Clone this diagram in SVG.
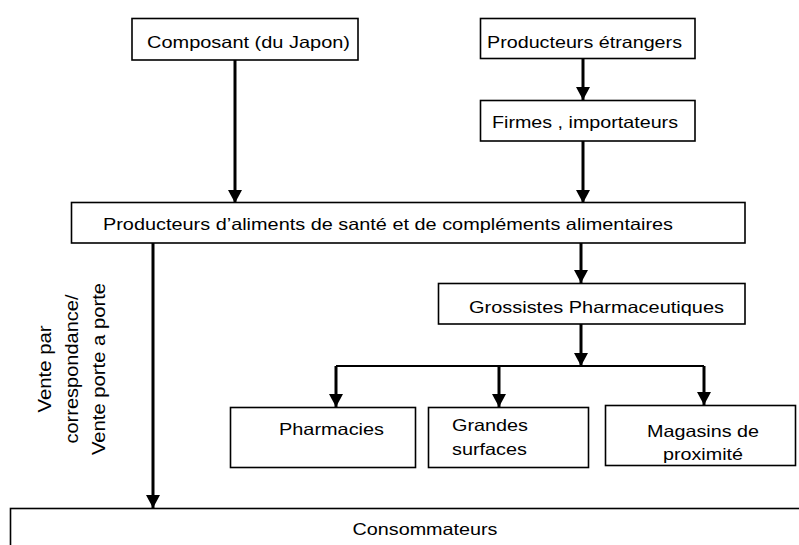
<svg xmlns="http://www.w3.org/2000/svg" width="799" height="545" viewBox="0 0 799 545">
<style>
.box{fill:#fff;stroke:#000;stroke-width:1.6}
.t{font-family:"Liberation Sans",Arial,sans-serif;font-size:16.5px;fill:#000}
.c{stroke:#000;stroke-width:3;fill:none}
.bar{stroke:#000;stroke-width:2.2;fill:none}
</style>
<defs>
<marker id="ah" markerUnits="userSpaceOnUse" markerWidth="14" markerHeight="14" refX="13" refY="7" orient="auto" viewBox="0 0 14 14">
<path d="M0,0 L13,7 L0,14 z" fill="#000"/>
</marker>
</defs>
<g id="connectors">
<line class="c" x1="235" y1="60" x2="235" y2="203" marker-end="url(#ah)"/>
<line class="c" x1="583" y1="58" x2="583" y2="100" marker-end="url(#ah)"/>
<line class="c" x1="583" y1="141" x2="583" y2="203" marker-end="url(#ah)"/>
<line class="c" x1="153" y1="243" x2="153" y2="508" marker-end="url(#ah)"/>
<line class="c" x1="581" y1="243" x2="581" y2="283" marker-end="url(#ah)"/>
<line class="c" x1="581" y1="324" x2="581" y2="366" marker-end="url(#ah)"/>
<line class="bar" x1="336" y1="366" x2="704" y2="366"/>
<line class="c" x1="336" y1="366" x2="336" y2="407" marker-end="url(#ah)"/>
<line class="c" x1="499" y1="366" x2="499" y2="407" marker-end="url(#ah)"/>
<line class="c" x1="704" y1="366" x2="704" y2="405" marker-end="url(#ah)"/>
<text class="t" transform="translate(51,369) rotate(-90)" text-anchor="middle" textLength="87" lengthAdjust="spacingAndGlyphs" style="font-size:18px">Vente par</text>
<text class="t" transform="translate(78,369) rotate(-90)" text-anchor="middle" textLength="149" lengthAdjust="spacingAndGlyphs" style="font-size:18px">correspondance/</text>
<text class="t" transform="translate(105,369) rotate(-90)" text-anchor="middle" textLength="172" lengthAdjust="spacingAndGlyphs" style="font-size:18px">Vente porte a porte</text>
</g>
<g id="composant">
<rect class="box" x="132" y="18.5" width="226" height="41.5"/>
<text class="t" x="147" y="48" textLength="203" lengthAdjust="spacingAndGlyphs">Composant (du Japon)</text>
</g>
<g id="producteurs-etrangers">
<rect class="box" x="480.5" y="18.5" width="214.5" height="40"/>
<text class="t" x="487" y="48" textLength="195" lengthAdjust="spacingAndGlyphs">Producteurs étrangers</text>
</g>
<g id="firmes">
<rect class="box" x="480.5" y="100.5" width="214.5" height="40.5"/>
<text class="t" x="492" y="128" textLength="186" lengthAdjust="spacingAndGlyphs">Firmes , importateurs</text>
</g>
<g id="producteurs-aliments">
<rect class="box" x="71.5" y="202.5" width="673.5" height="40.5"/>
<text class="t" x="103" y="230" textLength="570" lengthAdjust="spacingAndGlyphs">Producteurs d’aliments de santé et de compléments alimentaires</text>
</g>
<g id="grossistes">
<rect class="box" x="438.5" y="283.5" width="306.5" height="40.5"/>
<text class="t" x="469" y="313" textLength="255" lengthAdjust="spacingAndGlyphs">Grossistes Pharmaceutiques</text>
</g>
<g id="pharmacies">
<rect class="box" x="230.5" y="407.5" width="185" height="60"/>
<text class="t" x="279" y="435" textLength="105" lengthAdjust="spacingAndGlyphs">Pharmacies</text>
</g>
<g id="grandes-surfaces">
<rect class="box" x="428.5" y="407.5" width="160" height="60"/>
<text class="t" x="452" y="431" textLength="76" lengthAdjust="spacingAndGlyphs">Grandes</text>
<text class="t" x="452" y="455" textLength="75" lengthAdjust="spacingAndGlyphs">surfaces</text>
</g>
<g id="magasins">
<rect class="box" x="605.5" y="405.5" width="190" height="60"/>
<text class="t" x="703" y="437" text-anchor="middle" textLength="112" lengthAdjust="spacingAndGlyphs">Magasins de</text>
<text class="t" x="703" y="460" text-anchor="middle" textLength="80" lengthAdjust="spacingAndGlyphs">proximité</text>
</g>
<g id="consommateurs">
<rect class="box" x="10.5" y="508.5" width="840" height="60"/>
<text class="t" x="425" y="535" text-anchor="middle" textLength="145" lengthAdjust="spacingAndGlyphs">Consommateurs</text>
</g>
</svg>
